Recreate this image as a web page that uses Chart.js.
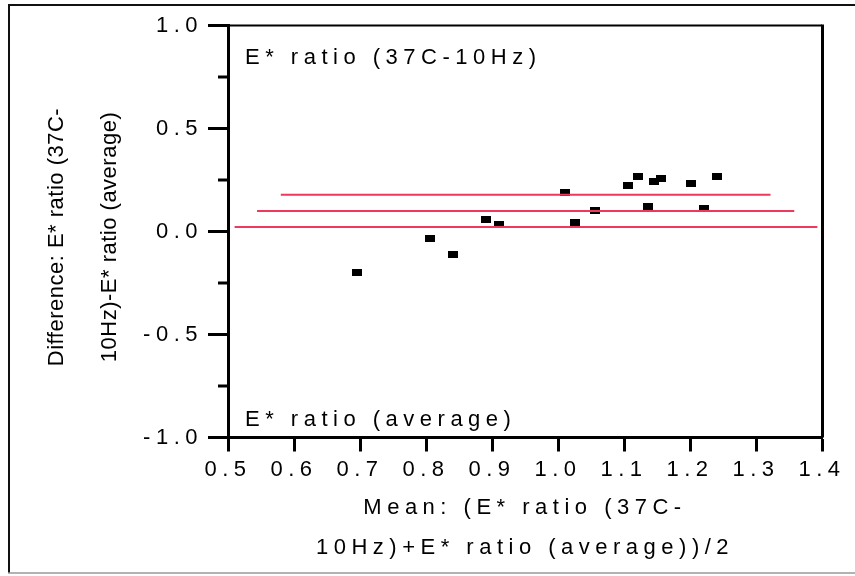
<!DOCTYPE html>
<html lang="en">
<head>
<meta charset="UTF-8">
<title>E* ratio agreement plot</title>
<script src="https://cdn.jsdelivr.net/npm/chart.js"></script>
<style>
  html, body { margin: 0; padding: 0; background: #fff; }
  canvas { display: block; }
</style>
</head>
<body>
<canvas id="chart" width="855" height="576"></canvas>
<script>
// mean of the two ratios (x) and their difference (y), one entry per sample
const meanRatio = [0.696, 0.806, 0.841, 0.891, 0.911, 1.011, 1.026, 1.056, 1.106, 1.121, 1.136, 1.146, 1.156, 1.201, 1.221, 1.241];
const diffRatio = [-0.200, -0.033, -0.110, 0.056, 0.033, 0.190, 0.045, 0.101, 0.222, 0.265, 0.120, 0.245, 0.256, 0.233, 0.112, 0.265];

// horizontal reference lines: level, and where each one starts / ends on x
const refLevels = [0.178, 0.099, 0.022];
const refStart = [0.580, 0.544, 0.510];
const refEnd = [1.322, 1.358, 1.393];

const xTicks = [0.5, 0.6, 0.7, 0.8, 0.9, 1.0, 1.1, 1.2, 1.3, 1.4];
const yTicks = [-1.0, -0.5, 0.0, 0.5, 1.0];
const yMinorTicks = [-0.75, -0.25, 0.25, 0.75];

const xTitle = ['Mean: (E* ratio (37C-', '10Hz)+E* ratio (average))/2'];
const yTitle = ['Difference: E* ratio (37C-', '10Hz)-E* ratio (average)'];
const topNote = 'E* ratio (37C-10Hz)';
const bottomNote = 'E* ratio (average)';

const FONT = "'Liberation Sans', Arial, Helvetica, sans-serif";
const RED = '#eb3a5e';
const SPACED = '5.5px';

// small filled rectangle used as the point marker
const marker = document.createElement('canvas');
marker.width = 10;
marker.height = 7;
const mctx = marker.getContext('2d');
mctx.fillStyle = '#000';
mctx.fillRect(0, 0, 10, 7);

const framePlugin = {
  id: 'frame',
  beforeDraw(chart) {
    const ctx = chart.ctx;
    ctx.save();
    // outer frame around the whole figure
    ctx.strokeStyle = '#111';
    ctx.lineWidth = 2;
    ctx.beginPath();
    ctx.moveTo(9, 573);
    ctx.lineTo(9, 5);
    ctx.lineTo(855, 5);
    ctx.stroke();
    ctx.strokeStyle = '#999';
    ctx.lineWidth = 1.5;
    ctx.beginPath();
    ctx.moveTo(8, 573);
    ctx.lineTo(855, 573);
    ctx.stroke();
    ctx.restore();
    // spaced-out lettering for tick labels and the x title
    ctx.letterSpacing = SPACED;
  },
  afterDraw(chart) {
    const { ctx, chartArea: a, scales: { y } } = chart;
    ctx.save();
    ctx.strokeStyle = '#000';
    // top and right edges of the plot box
    ctx.lineWidth = 2;
    ctx.beginPath();
    ctx.moveTo(a.left, a.top);
    ctx.lineTo(a.right, a.top);
    ctx.stroke();
    ctx.lineWidth = 3;
    ctx.beginPath();
    ctx.moveTo(a.right + 0.5, a.top - 1);
    ctx.lineTo(a.right + 0.5, a.bottom);
    ctx.stroke();

    // minor ticks on the y axis
    ctx.lineWidth = 3;
    yMinorTicks.forEach(v => {
      const py = y.getPixelForValue(v);
      ctx.beginPath();
      ctx.moveTo(a.left - 10, py);
      ctx.lineTo(a.left, py);
      ctx.stroke();
    });

    // notes inside the plot
    ctx.fillStyle = '#000';
    ctx.font = `22px ${FONT}`;
    ctx.letterSpacing = SPACED;
    ctx.textAlign = 'left';
    ctx.textBaseline = 'alphabetic';
    ctx.fillText(topNote, a.left + 17, 64);
    ctx.fillText(bottomNote, a.left + 17, 426);

    // y axis title, two rotated lines
    ctx.letterSpacing = '0.5px';
    ctx.textAlign = 'center';
    ctx.textBaseline = 'middle';
    ctx.translate(0, 237);
    ctx.rotate(-Math.PI / 2);
    ctx.fillText(yTitle[0], 0, 57);
    ctx.fillText(yTitle[1], 0, 110);
    ctx.restore();
  }
};

const tickFont = { family: FONT, size: 22 };

new Chart(document.getElementById('chart'), {
  type: 'scatter',
  data: {
    datasets: [
      ...refLevels.map((lv, i) => ({
        data: [{ x: refStart[i], y: lv }, { x: refEnd[i], y: lv }],
        showLine: true,
        borderColor: RED,
        borderWidth: 2,
        pointRadius: 0,
        order: 0
      })),
      {
        data: meanRatio.map((x, i) => ({ x, y: diffRatio[i] })),
        pointStyle: marker,
        pointRadius: 5,
        order: 1
      }
    ]
  },
  options: {
    responsive: false,
    animation: false,
    events: [],
    layout: { padding: { top: 25.5, right: 33, left: 0, bottom: 0 } },
    plugins: { legend: { display: false }, tooltip: { enabled: false } },
    scales: {
      x: {
        type: 'linear',
        min: 0.5,
        max: 1.4,
        afterBuildTicks: s => { s.ticks = xTicks.map(v => ({ value: v })); },
        afterFit: s => { s.height = 138.5; },
        grid: { drawOnChartArea: false, drawTicks: true, tickLength: 14, tickWidth: 3, color: '#000', tickColor: '#000' },
        border: { display: true, color: '#000', width: 3 },
        ticks: { color: '#000', font: tickFont, padding: 5, maxRotation: 0, autoSkip: false, callback: v => v.toFixed(1) },
        title: {
          display: true,
          text: xTitle,
          color: '#000',
          font: { family: FONT, size: 22, lineHeight: '40px' },
          padding: { top: 0, bottom: 8 }
        }
      },
      y: {
        min: -1,
        max: 1,
        afterBuildTicks: s => { s.ticks = yTicks.map(v => ({ value: v })); },
        afterFit: s => { s.width = 228; },
        grid: { drawOnChartArea: false, drawTicks: true, tickLength: 20, tickWidth: 3, color: '#000', tickColor: '#000' },
        border: { display: true, color: '#000', width: 3 },
        ticks: { color: '#000', font: tickFont, padding: 5, callback: v => v.toFixed(1) }
      }
    }
  },
  plugins: [framePlugin]
});
</script>
</body>
</html>
